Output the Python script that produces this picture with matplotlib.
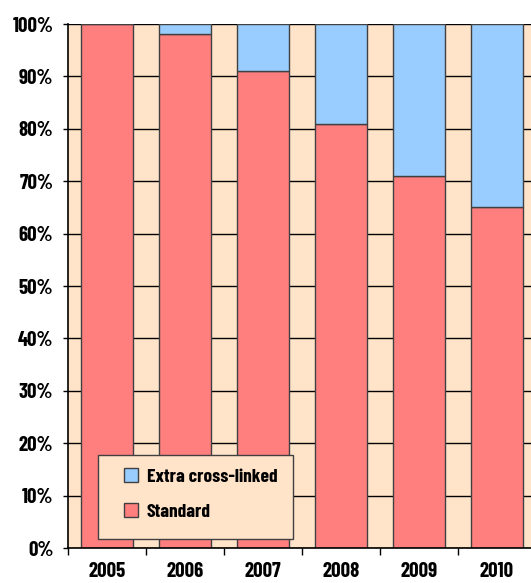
import matplotlib
matplotlib.use("Agg")
import matplotlib.pyplot as plt
import numpy as np
from matplotlib.patches import Patch, Rectangle

years = ["2005", "2006", "2007", "2008", "2009", "2010"]
standard = [100, 98, 91, 81, 71, 65]
extra = [0, 2, 9, 19, 29, 35]
yticks = [0, 10, 20, 30, 40, 50, 60, 70, 80, 90, 100]

red = "#FF7F7F"
blue = "#99CCFF"
peach = "#FFE4C9"
edge = "#404040"

plt.rcParams["font.family"] = ["Barlow Condensed", "DejaVu Sans"]
plt.rcParams["font.weight"] = "bold"

fig = plt.figure(figsize=(5.31, 5.83), dpi=100)
ax = fig.add_axes([68 / 531, 35 / 583, 468 / 531, 524 / 583])
ax.set_facecolor(peach)

x = np.arange(len(years))
ax.bar(x, standard, width=0.67, color=red, edgecolor=edge, linewidth=1, zorder=2)
ax.bar(x, extra, width=0.67, bottom=standard, color=blue, edgecolor=edge,
       linewidth=1, zorder=2)

ax.set_xlim(-0.5, len(years) - 0.5)
ax.set_ylim(0, 100)

# gridlines behind the bars
for v in yticks:
    ax.axhline(v, color="black", linewidth=1, zorder=1)
ax.set_yticks(yticks)
ax.set_yticklabels([f"{v}%" for v in yticks], fontsize=15)

# ticks at the category borders, labels in the middle
ax.set_xticks(np.arange(len(years) + 1) - 0.5)
ax.set_xticklabels([])
ax.set_xticks(x, minor=True)
ax.set_xticklabels(years, minor=True, fontsize=15)
ax.tick_params(axis="x", which="major", length=5, width=1, direction="out")
ax.tick_params(axis="x", which="minor", length=0, pad=10)
ax.tick_params(axis="y", length=3.6, width=1, pad=7)

for s in ["top", "right"]:
    ax.spines[s].set_visible(False)
ax.spines["left"].set_linewidth(1.2)
ax.spines["bottom"].set_linewidth(1.2)

# legend box
ax.add_patch(Rectangle((0.0641, 0.0172), 0.4167, 0.1603, transform=ax.transAxes,
                       facecolor=peach, edgecolor=edge, linewidth=1, zorder=4))
handles = [Patch(facecolor=blue, edgecolor=edge, label="Extra cross-linked"),
           Patch(facecolor=red, edgecolor=edge, label="Standard")]
leg = ax.legend(handles=handles, loc="center left", bbox_to_anchor=(0.1197, 0.102),
                borderaxespad=0, borderpad=0, frameon=False,
                prop={"size": 14, "weight": "bold"},
                handlelength=0.72, handleheight=0.72, handletextpad=0.45,
                labelspacing=0.9)
leg.set_zorder(5)

fig.savefig("out.png", dpi=100)
